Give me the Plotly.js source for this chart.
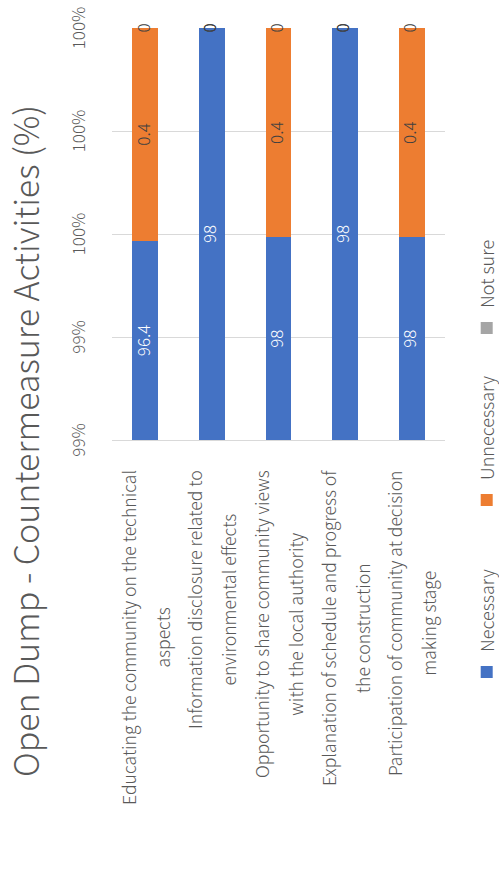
<!DOCTYPE html>
<html><head><meta charset="utf-8">
<script src="https://cdn.plot.ly/plotly-3.0.1.min.js"></script>
<style>
html,body{margin:0;padding:0;overflow:hidden;background:#fff;width:499px;height:875px;}
#chart{position:absolute;left:0;top:0;width:875px;height:499px;transform-origin:0 0;transform:translateY(875px) rotate(-90deg);}
</style></head><body><div id="chart"></div>
<script>
const categories = [
  "Educating the community on the technical<br>aspects",
  "Information disclosure related to<br>environmental effects",
  "Opportunity to share community views<br>with the local authority",
  "Explanation of schedule and progress of<br>the construction",
  "Participation of community at decision<br>making stage"
];
const seriesNames = ["Necessary", "Unnecessary", "Not sure"];
const necessary = [96.4, 98, 98, 98, 98];
const unnecessary = [0.4, 0, 0.4, 0, 0.4];
const notSure = [0, 0, 0, 0, 0];
const axisRange = [0.992, 1.0];
const axisTicks = [0.992, 0.994, 0.996, 0.998, 1.0];
const titleText = "Open Dump - Countermeasure Activities (%)";

const FONT = '"Noto Sans CJK JP Light", "Noto Sans CJK JP", "Noto Sans", sans-serif';
const GRAY = '#595959';
const colors = ['#4472C4', '#ED7D31', '#A5A5A5'];
const labelColors = ['#FFFFFF', '#404040', '#404040'];
const series = [necessary, unnecessary, notSure];

const traces = [];
series.forEach((vals, s) => {
  traces.push({
    type: 'bar', orientation: 'h', name: seriesNames[s],
    x: vals, y: categories,
    marker: {color: colors[s], line: {width: 0}},
    hoverinfo: 'skip'
  });
});

// data labels: centre of the visible part of each normalised segment
series.forEach((vals, s) => {
  const xs = [], ys = [], txt = [];
  categories.forEach((c, i) => {
    const total = series.reduce((a, arr) => a + arr[i], 0);
    let start = 0;
    for (let k = 0; k < s; k++) start += series[k][i] / total;
    const end = start + vals[i] / total;
    const a = Math.min(Math.max(start, axisRange[0]), axisRange[1]);
    const b = Math.min(Math.max(end, axisRange[0]), axisRange[1]);
    xs.push((a + b) / 2); ys.push(c); txt.push(String(vals[i]));
  });
  traces.push({
    type: 'scatter', mode: 'text', x: xs, y: ys, text: txt,
    textposition: 'middle center',
    textfont: {family: FONT, size: 17, color: labelColors[s]},
    cliponaxis: false, showlegend: false, hoverinfo: 'skip'
  });
});

const annotations = categories.map(c => {
  const lines = c.split('<br>').map(l => '<span style="font-size:17.6px">' + l + '</span>');
  return {
    xref: 'paper', yref: 'y', x: 0, y: c, xanchor: 'right', yanchor: 'middle',
    xshift: -28, align: 'center', showarrow: false,
    text: lines.join('<br> <br>'),
    font: {family: FONT, size: 13, color: GRAY}
  };
});

const layout = {
  width: 875, height: 499,
  margin: {l: 435, r: 28, t: 112, b: 54, autoexpand: false},
  paper_bgcolor: '#fff', plot_bgcolor: '#fff',
  font: {family: FONT, color: GRAY},
  title: {text: titleText, xref: 'container', yref: 'container', x: 434/875, xanchor: 'center',
          y: 1 - 27/499, yanchor: 'middle', font: {family: FONT, size: 34, color: GRAY, weight: 300}},
  barmode: 'stack', barnorm: 'fraction', bargap: 0.61,
  xaxis: {range: axisRange, tickvals: axisTicks, tickformat: '.0%', side: 'top',
          showgrid: true, gridcolor: '#D9D9D9', gridwidth: 1, zeroline: false, showline: false,
          ticks: 'outside', ticklen: 19, tickcolor: 'rgba(0,0,0,0)',
          tickfont: {family: FONT, size: 17, color: GRAY}},
  yaxis: {type: 'category', autorange: 'reversed', showticklabels: false, showgrid: false,
          showline: true, linecolor: '#D9D9D9', linewidth: 1, zeroline: false, ticks: ''},
  showlegend: true,
  legend: {orientation: 'h', xref: 'paper', yref: 'paper', x: (183 - 435) / 412, xanchor: 'left',
           y: (445 - 487) / 333, yanchor: 'middle', font: {family: FONT, size: 18, color: GRAY},
           traceorder: 'normal', entrywidth: 127, entrywidthmode: 'pixels'},
  annotations: annotations
};

Plotly.newPlot('chart', traces, layout, {displayModeBar: false, staticPlot: true});
</script></body></html>
